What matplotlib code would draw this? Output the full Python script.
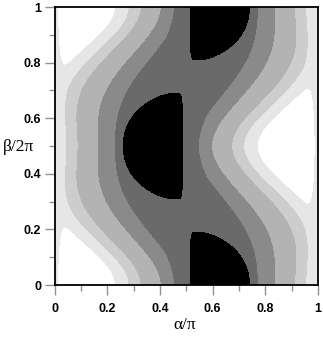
import numpy as np
import matplotlib
matplotlib.use('Agg')
import matplotlib.pyplot as plt

# distance (alpha units) from the ridge line where each shade starts,
# going from white to the darkest grey
band_dist = [0.39, 0.338, 0.292, 0.216, 0.15]
shades = ['#ffffff', '#e6e6e6', '#cdcdcd', '#b3b3b3', '#8a8a8a', '#6a6a6a', '#000000']

# ridge line alpha_c(beta) = 0.5 + shift*cos(2 pi beta)
shift = 0.12
# black lobes: half width across the ridge, half length along beta,
# centred at beta = 0, 1/2, 1; they end at alpha = 1/2
lobe_w, lobe_h = 0.12, 0.19
cut_lo, cut_hi = 0.49, 0.51
corner = 0.02
halo = 1.9                      # dark grey reaches further past the cut
edge_w, edge_val = 0.032, 0.135   # the map returns to light grey at alpha = 0 and 1

ticks = [0, 0.2, 0.4, 0.6, 0.8, 1]
tick_labels = ['0', '0.2', '0.4', '0.6', '0.8', '1']

levels = [-1.0] + [0.5 - x for x in band_dist] + [0.6, 3.0]
top = levels[-2]

alpha = np.linspace(0, 1, 801)
beta = np.linspace(0, 1, 801)
A, B = np.meshgrid(alpha, beta)

ac = 0.5 + shift * np.cos(2 * np.pi * B)
slope = -2 * np.pi * shift * np.sin(2 * np.pi * B)
d = np.abs(A - ac) / np.sqrt(1 + slope ** 2)
F = 0.5 - d

db = np.minimum(np.abs(B - 0.5), np.minimum(B, 1 - B))
cb = np.cos(2 * np.pi * B)
over = np.where(cb < 0, A - (cut_lo - corner), (cut_hi + corner) - A)
E0 = (d / lobe_w) ** 2 + (db / lobe_h) ** 2
E = E0 + (np.clip(over, 0, None) / corner) ** 4
F = np.maximum(F, top + 2 * (1 - E))
past = over > corner
F[past] = np.maximum(F[past], levels[5] + 0.1 * (halo - E0[past]))

m = np.exp(-(A / edge_w) ** 2) + np.exp(-((1 - A) / edge_w) ** 2)
F = F * (1 - m) + edge_val * m

fig = plt.figure(figsize=(3.23, 3.37), dpi=100)
ax = fig.add_axes([0.170, 0.154, 0.814, 0.825])
ax.contourf(A, B, F, levels=levels, colors=shades)

ax.set_xlim(0, 1)
ax.set_ylim(0, 1)
ax.set_xticks(ticks)
ax.set_yticks(ticks)
ax.set_xticks(np.arange(0.1, 1, 0.2), minor=True)
ax.set_yticks(np.arange(0.1, 1, 0.2), minor=True)
ax.set_xticklabels(tick_labels, fontfamily='Liberation Sans', fontweight='bold', fontsize=9)
ax.set_yticklabels(tick_labels, fontfamily='Liberation Sans', fontweight='bold', fontsize=9)
ax.tick_params(which='major', direction='out', length=7, width=1, color='#909090')
ax.tick_params(which='minor', direction='out', length=4, width=1, color='#909090')
ax.tick_params(axis='x', which='major', pad=6)
ax.tick_params(axis='y', which='major', pad=3)
for s in ax.spines.values():
    s.set_linewidth(1.3)

ax.set_xlabel('α/π', fontfamily='Liberation Serif', fontsize=12.5, va='center')
ax.xaxis.set_label_coords(0.495, -0.145)
ax.set_ylabel('β/2π', fontfamily='Liberation Serif', fontsize=12.5, rotation=0, va='center', ha='center')
ax.yaxis.set_label_coords(-0.14, 0.495)

fig.savefig('out.png', dpi=100)
